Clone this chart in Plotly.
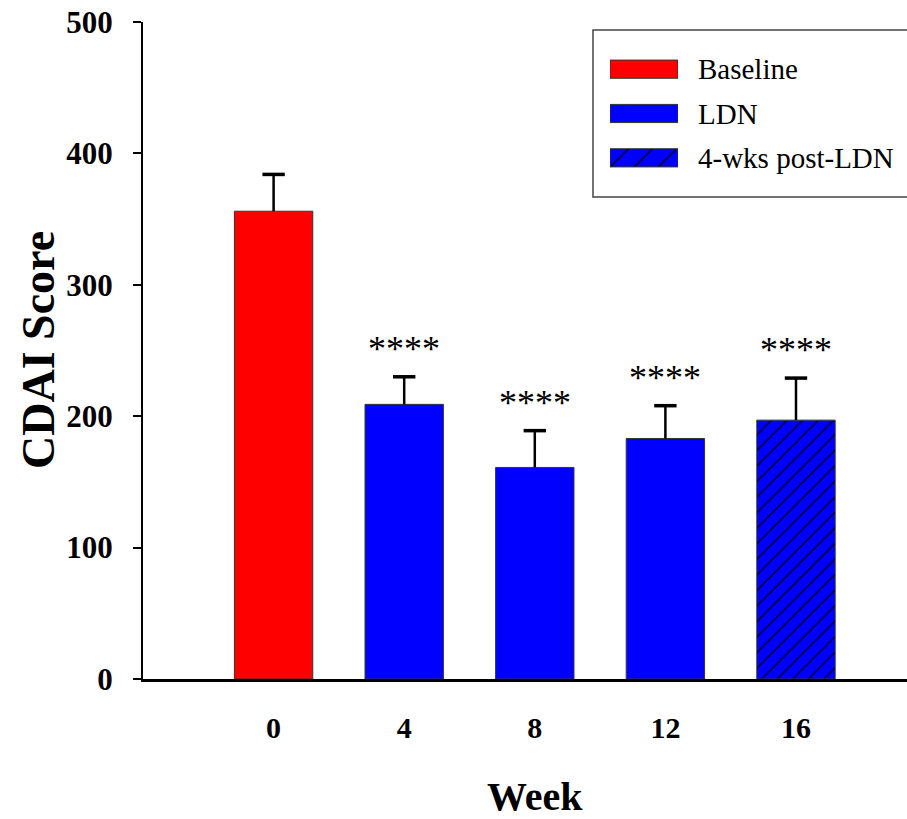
import plotly.graph_objects as go

# ---- data ----
weeks = ["0", "4", "8", "12", "16"]
means = [356, 209, 161, 183, 197]
sems = [28, 21, 28, 25, 32]
bar_groups = ["Baseline", "LDN", "LDN", "LDN", "4-wks post-LDN"]
sig_labels = ["", "****", "****", "****", "****"]
legend_labels = ["Baseline", "LDN", "4-wks post-LDN"]
y_ticks = [0, 100, 200, 300, 400, 500]

group_color = {"Baseline": "#ff0000", "LDN": "#0000ff", "4-wks post-LDN": "#0000ff"}
group_pattern = {"Baseline": "", "LDN": "", "4-wks post-LDN": "/"}

FONT = "Liberation Serif"
W, H = 907, 819
L, R, T, B = 143, 0, 22, 140

fig = go.Figure()


def pattern_for(group, size, solidity):
    shape = group_pattern[group]
    if not shape:
        return dict(shape="")
    return dict(shape=shape, fillmode="replace", bgcolor=group_color[group],
                fgcolor="#000000", fgopacity=1, size=size, solidity=solidity)


# bars, one trace per group (scalar colours so the hatch colour is honoured)
for g in legend_labels:
    idx = [i for i, bg in enumerate(bar_groups) if bg == g]
    fig.add_trace(go.Bar(
        x=[weeks[i] for i in idx], y=[means[i] for i in idx], width=0.6,
        marker=dict(color=group_color[g], line=dict(color="#333333", width=1),
                    pattern=pattern_for(g, 11, 0.11)),
        name=g, showlegend=False,
    ))

# error bars (upper only): stems + top caps
stem_x, stem_y = [], []
for wk, m, s in zip(weeks, means, sems):
    stem_x += [wk, wk, None]
    stem_y += [m, m + s, None]
fig.add_trace(go.Scatter(x=stem_x, y=stem_y, mode="lines",
                         line=dict(color="black", width=2.5),
                         showlegend=False, hoverinfo="skip"))
fig.add_trace(go.Scatter(x=weeks, y=[m + s for m, s in zip(means, sems)], mode="markers",
                         marker=dict(symbol="line-ew", size=16,
                                     line=dict(color="black", width=3.5)),
                         showlegend=False, hoverinfo="skip"))

# custom legend swatches
for k, g in enumerate(legend_labels):
    fig.add_trace(go.Bar(
        x=[1], y=[2.5 - k], orientation="h", width=0.41,
        xaxis="x2", yaxis="y2",
        marker=dict(color=group_color[g], line=dict(color="#333333", width=1),
                    pattern=pattern_for(g, 17, 0.08)),
        showlegend=False, hoverinfo="skip",
    ))

annotations = []
for i, (m, s, lab) in enumerate(zip(means, sems, sig_labels)):
    if lab:
        annotations.append(dict(x=i, y=m + s, xref="x", yref="y", text=lab,
                                showarrow=False, yanchor="middle", yshift=28,
                                font=dict(family=FONT, size=36, color="black")))

for i, lab in enumerate(legend_labels):
    annotations.append(dict(x=(696 - L) / (W - L), y=2.5 - i, xref="paper", yref="y2",
                            text=lab, showarrow=False, xanchor="left", yanchor="middle",
                            font=dict(family=FONT, size=29, color="black")))

annotations.append(dict(x=(38 - L) / (W - L), y=(679 - 350) / (679 - T), xref="paper", yref="paper",
                        text="CDAI Score", textangle=-90, showarrow=False,
                        xanchor="center", yanchor="middle",
                        font=dict(family=FONT, size=46, color="black", weight="bold")))
annotations.append(dict(x=(535 - L) / (W - L), y=(679 - 796) / (679 - T), xref="paper", yref="paper",
                        text="Week", showarrow=False, xanchor="center", yanchor="middle",
                        font=dict(family=FONT, size=40, color="black", weight="bold")))

pw = W - L
ph = H - T - B
fig.update_layout(
    width=W, height=H,
    margin=dict(l=L, r=R, t=T, b=B),
    paper_bgcolor="white", plot_bgcolor="white",
    barmode="overlay",
    xaxis=dict(type="category", categoryorder="array", categoryarray=weeks,
               range=[-1.0, 4.85], showline=True, linecolor="black",
               linewidth=2.5, ticks="", showgrid=False, zeroline=False,
               tickfont=dict(family=FONT, size=30, color="black", weight="bold"),
               ticklabelstandoff=20),
    yaxis=dict(range=[0, 500], tickvals=y_ticks, showline=True, linecolor="black",
               linewidth=2, ticks="outside", ticklen=8, tickwidth=2, tickcolor="black",
               showgrid=False, zeroline=False,
               tickfont=dict(family=FONT, size=31, color="black", weight="bold"),
               ticklabelstandoff=14),
    xaxis2=dict(domain=[(610 - L) / pw, (678 - L) / pw], range=[0, 1], visible=False,
                anchor="y2"),
    yaxis2=dict(domain=[(679 - 180) / ph, (679 - 47) / ph], range=[0, 3], visible=False,
                anchor="x2"),
    shapes=[dict(type="rect", xref="paper", yref="paper",
                 x0=(593 - L) / pw, x1=1.02, y0=(679 - 197) / ph, y1=(679 - 30) / ph,
                 line=dict(color="#444444", width=1.5), fillcolor="rgba(0,0,0,0)", layer="below")],
    annotations=annotations,
    showlegend=False,
)

fig.write_html("out.html")
